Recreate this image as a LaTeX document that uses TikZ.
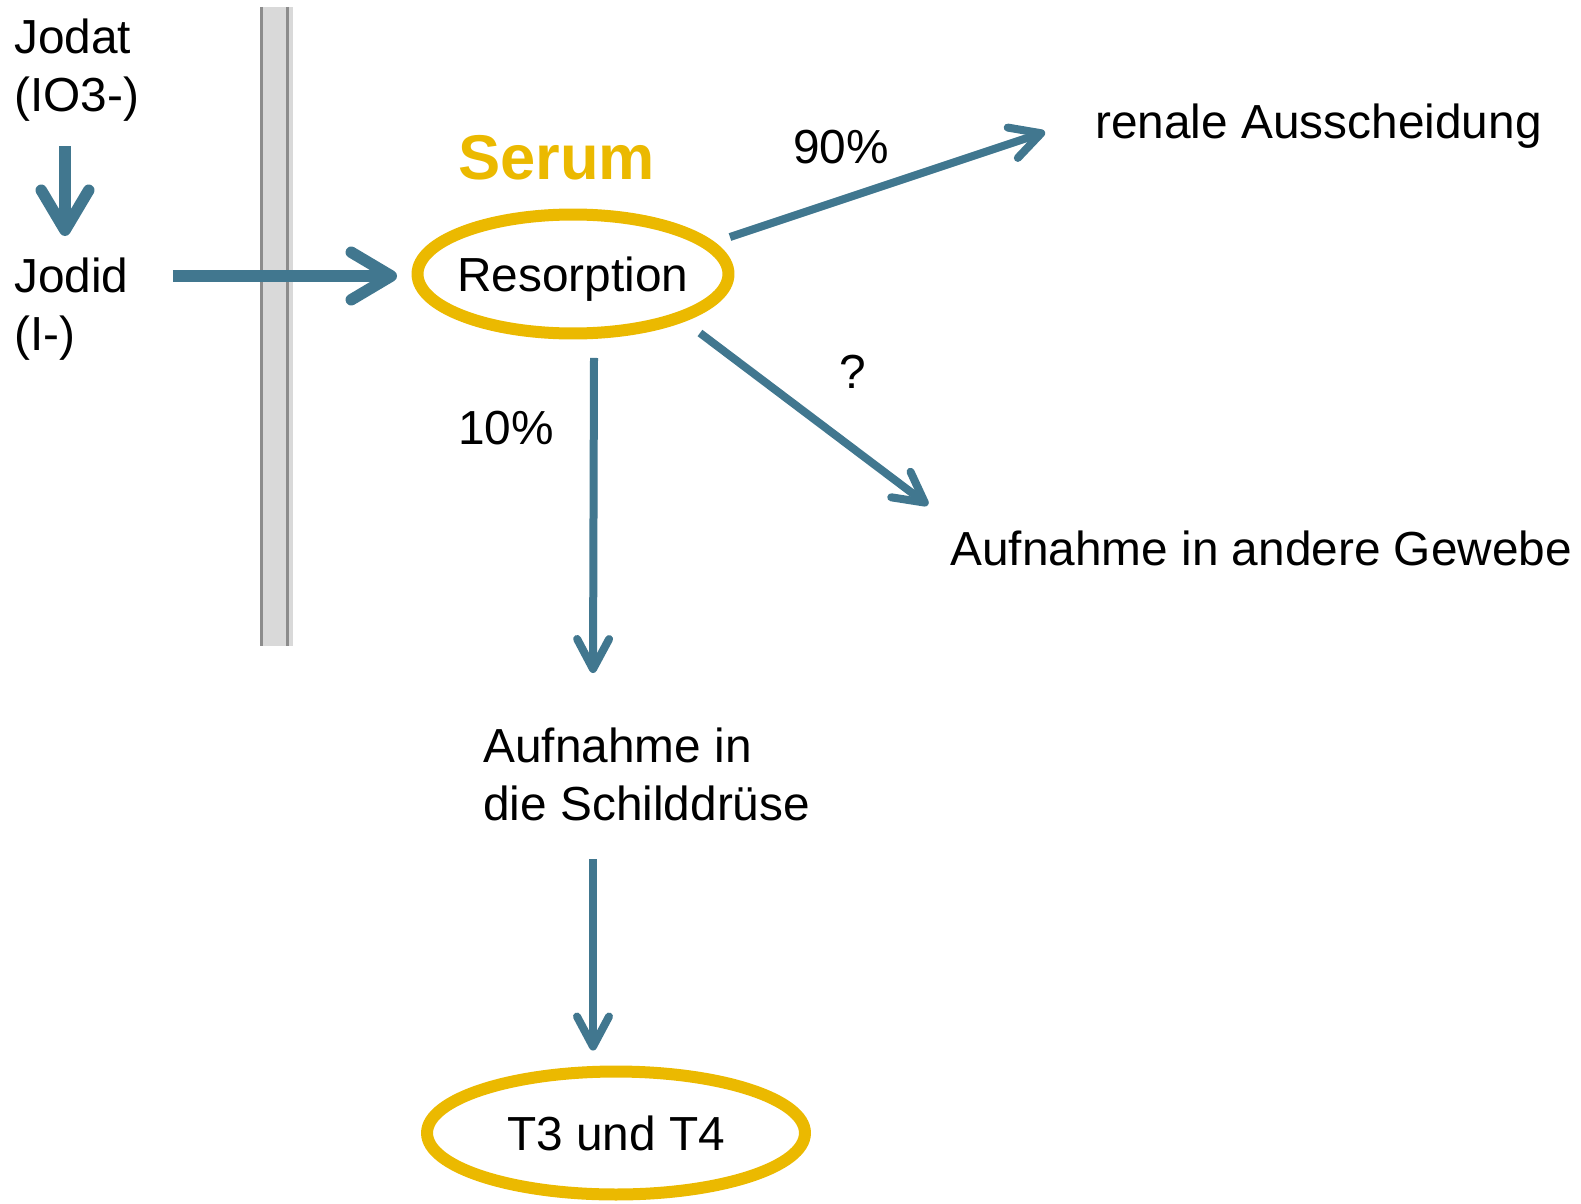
\documentclass[tikz,border=0pt]{standalone}
\usepackage{fontspec}
\setmainfont{Liberation Sans}
\usetikzlibrary{arrows.meta,shapes.geometric,calc}
\definecolor{flowblue}{RGB}{65,119,143}
\definecolor{serumgold}{RGB}{235,185,0}
\definecolor{barfill}{RGB}{217,217,217}
\definecolor{barline}{RGB}{140,140,140}
\tikzset{
  txt/.style={inner sep=0pt, font=\fontsize{27.2}{33}\selectfont},
  multitxt/.style={txt, align=left, anchor=north west},
  pool/.style={shape=ellipse, draw=serumgold, line width=0.24cm, inner sep=-0.2cm, text depth=0pt, font=\fontsize{27.2}{33}\selectfont},
  bigflow/.style={draw=flowblue, line width=0.23cm, -{Straight Barb[length=0.8cm,width=0.95cm,round]}},
  flow/.style={draw=flowblue, line width=0.16cm, -{Straight Barb[length=0.6cm,width=0.64cm,round]}},
}
\begin{document}
\begin{tikzpicture}[x=0.02cm, y=-0.02cm]
\useasboundingbox (0,0) rectangle (1581,1203);
% membrane
\fill[barfill] (260,7) rectangle (293,646);
\draw[barline, line width=0.05cm] (261.3,7) -- (261.3,646) (287.3,7) -- (287.3,646);

% labels
\node[multitxt] (jodat) at (14,19) {Jodat\\(IO3-)};
\node[multitxt] (jodid) at (14,258) {Jodid\\(I-)};
\node[txt, anchor=base west, font=\fontsize{36}{44}\selectfont\bfseries, text=serumgold] (serum) at (458,179.5) {Serum};
\node[pool, minimum width=6.22cm, minimum height=2.38cm] (res) at (573,274) {Resorption};
\node[txt, anchor=base west] (renal) at (1095,138) {renale Ausscheidung};
\node[txt, anchor=base west] (andere) at (950,565) {Aufnahme in andere Gewebe};
\node[multitxt] (schild) at (483,728) {Aufnahme in\\die Schilddrüse};
\node[pool, minimum width=7.56cm, minimum height=2.46cm] (t3t4) at (616,1133) {T3 und T4};
\node[txt, anchor=base west] (p90) at (793,163) {90\%};
\node[txt, anchor=base west] (p10) at (458,444) {10\%};
\node[txt, anchor=base west] (unk) at (839,388) {?};

% arrows
\draw[bigflow] ($(jodat.north west)+(51,127)$) -- ($(jodid.north west)+(51,-22)$);
\draw[bigflow] ($(jodid.north east)+(44,18)$) -- ($(res.west)+(-14.5,2)$);
\draw[flow] ($(res.east)+(-4.5,-37)$) -- ($(renal.base west)+(-50,-6)$);
\draw[flow] ($(res.east)+(-34.5,59)$) -- ($(andere.base west)+(-22,-60)$);
\draw[flow] ($(res.south)+(21,18.5)$) -- ($(schild.north west)+(110,-55)$);
\draw[flow] ($(schild.north west)+(110,131)$) -- ($(t3t4.north)+(-23,-15)$);
\end{tikzpicture}
\end{document}
